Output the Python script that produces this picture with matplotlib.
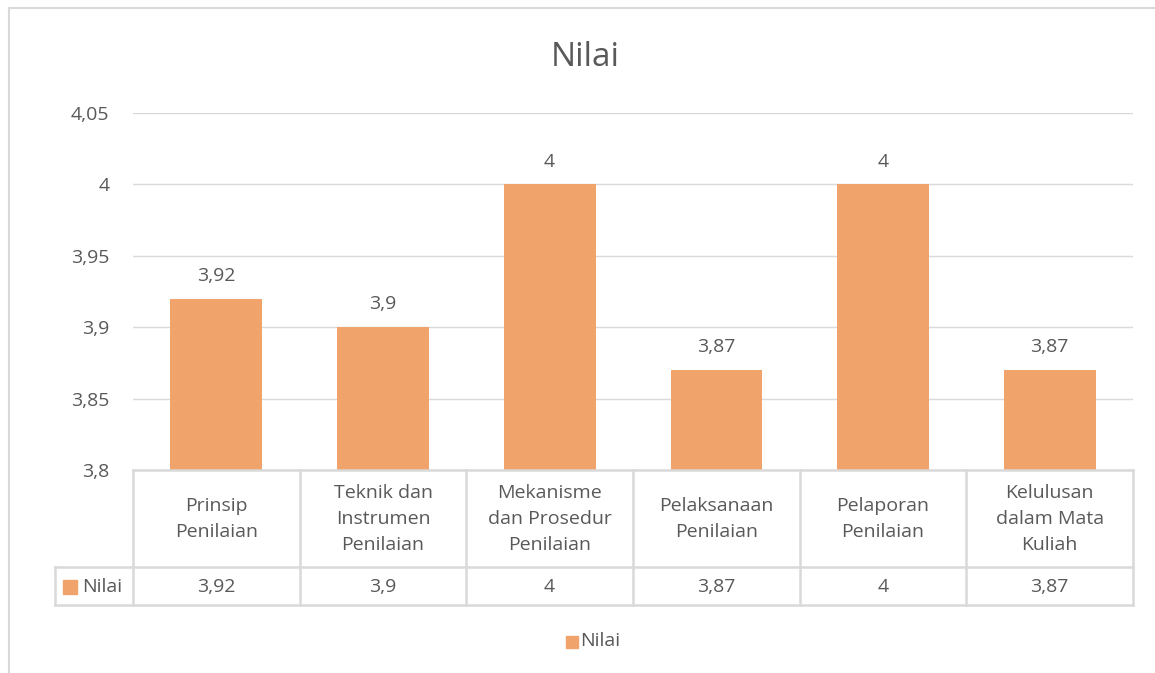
import matplotlib.pyplot as plt
from matplotlib.patches import Rectangle

categories = ["Prinsip\nPenilaian", "Teknik dan\nInstrumen\nPenilaian",
              "Mekanisme\ndan Prosedur\nPenilaian", "Pelaksanaan\nPenilaian",
              "Pelaporan\nPenilaian", "Kelulusan\ndalam Mata\nKuliah"]
nilai = [3.92, 3.9, 4.0, 3.87, 4.0, 3.87]
yticks = [3.8, 3.85, 3.9, 3.95, 4.0, 4.05]
series_name = "Nilai"

bar_color = "#F0A46C"
text_color = "#595959"
grid_color = "#D9D9D9"
fs = 14


def fmt(v):
    # comma decimal, as in the Indonesian Excel sheet
    s = ("%.2f" % v).rstrip("0").rstrip(".")
    return s.replace(".", ",")


plt.rcParams["font.family"] = ["Open Sans", "DejaVu Sans"]

W, H = 1155, 673
fig = plt.figure(figsize=(W / 100, H / 100), dpi=100)


def fr(x0, y0, x1, y1):
    # pixel box -> figure fraction rect
    return [x0 / W, 1 - y1 / H, (x1 - x0) / W, (y1 - y0) / H]


# chart border (right and bottom run off the picture)
fig.patches.append(Rectangle((9 / W, -0.05), 1.1, 1.05 - 8 / H,
                             transform=fig.transFigure, fill=False,
                             edgecolor=grid_color, lw=1.5))

ax = fig.add_axes(fr(133, 113, 1133, 470))
x = list(range(len(nilai)))
ax.bar(x, [v - yticks[0] for v in nilai], bottom=yticks[0], width=0.55,
       color=bar_color, zorder=3)
ax.set_xlim(-0.5, len(nilai) - 0.5)
ax.set_ylim(yticks[0], yticks[-1])
ax.set_yticks(yticks)
ax.set_yticklabels([fmt(t) for t in yticks], fontsize=fs, color=text_color)
ax.tick_params(axis="y", length=0, pad=17)
ax.set_xticks([])
ax.grid(axis="y", color=grid_color, lw=1, zorder=0)
for s in ax.spines.values():
    s.set_visible(False)
for xi, v in zip(x, nilai):
    ax.annotate(fmt(v), (xi, v), xytext=(0, 10), textcoords="offset points",
                ha="center", va="bottom", fontsize=fs, color=text_color)

fig.text(585 / W, 1 - 57 / H, series_name, ha="center", va="center",
         fontsize=24, color=text_color)

# data table under the axis
unit = 1000 / len(nilai)
left_units = (133 - 55) / unit
tax = fig.add_axes(fr(55, 470, 1133, 606))
tax.set_xlim(-0.5 - left_units, len(nilai) - 0.5)
tax.set_ylim(136, 0)
tax.axis("off")
lc = dict(color=grid_color, lw=1.8, clip_on=False)
tax.plot([-0.5, len(nilai) - 0.5], [0, 0], **lc)
tax.plot([-0.5 - left_units, len(nilai) - 0.5], [97, 97], **lc)
tax.plot([-0.5 - left_units, len(nilai) - 0.5], [135, 135], **lc)
tax.plot([-0.5 - left_units] * 2, [97, 135], **lc)
for i in range(len(nilai) + 1):
    tax.plot([i - 0.5] * 2, [0, 135], **lc)
for xi, (c, v) in enumerate(zip(categories, nilai)):
    tax.text(xi, 49, c, ha="center", va="center", fontsize=fs,
             color=text_color, linespacing=1.55)
    tax.text(xi, 117, fmt(v), ha="center", va="center", fontsize=fs,
             color=text_color)
tax.add_patch(Rectangle((-0.5 - left_units + 8 / unit, 110), 14 / unit, 14,
                        color=bar_color))
tax.text(-0.5 - left_units + 27 / unit, 117, series_name, ha="left",
         va="center", fontsize=fs, color=text_color)

# bottom legend
fig.patches.append(Rectangle((566 / W, 1 - 648 / H), 12 / W, 12 / H,
                             transform=fig.transFigure, color=bar_color))
fig.text(580 / W, 1 - 641 / H, series_name, ha="left", va="center",
         fontsize=fs, color=text_color)

fig.savefig("out.png", dpi=100)
